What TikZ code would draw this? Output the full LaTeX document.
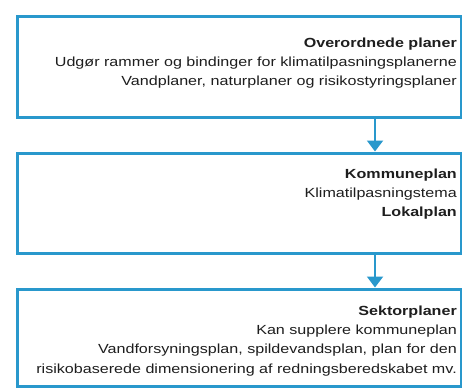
\documentclass[tikz,border=0pt]{standalone}
\usepackage{fontspec}
\setmainfont{Liberation Sans}
\newfontfamily\wideplan[FakeStretch=1.22]{Liberation Sans}
\usetikzlibrary{arrows.meta}
\definecolor{boxblue}{RGB}{41,152,204}
\definecolor{txt}{RGB}{30,30,30}
\begin{document}
\begin{tikzpicture}[x=1pt,y=1pt,
  planbox/.style={draw=boxblue,line width=3pt,fill=white,minimum width=444pt,inner sep=0pt},
  plantext/.style={anchor=north east,align=right,inner sep=0pt,text=txt,font=\wideplan\fontsize{13.2}{19.3}\selectfont},
  flow/.style={draw=boxblue,line width=2pt,-{Triangle[width=16pt,length=11pt]}}]
\useasboundingbox[fill=white] (0,0) rectangle (462,389);
\node[planbox,minimum height=100pt] (b1) at (239,322) {};
\node[planbox,minimum height=100pt] (b2) at (239,186) {};
\node[planbox,minimum height=97pt] (b3) at (239,51.5) {};
\coordinate (ax) at (375,0);
\draw[flow] (b1.south -| ax) -- (b2.north -| ax);
\draw[flow] (b2.south -| ax) -- (b3.north -| ax);
\node[plantext] (t1) at (457,351.5) {\textbf{Overordnede planer}\\Udgør rammer og bindinger for klimatilpasningsplanerne\\Vandplaner, naturplaner og risikostyringsplaner};
\node[plantext] (t2) at (457,220.5) {\textbf{Kommuneplan}\\Klimatilpasningstema\\\textbf{Lokalplan}};
\node[plantext] (t3) at (457,83.5) {\textbf{Sektorplaner}\\Kan supplere kommuneplan\\Vandforsyningsplan, spildevandsplan, plan for den\\risikobaserede dimensionering af redningsberedskabet mv.};
\end{tikzpicture}
\end{document}
